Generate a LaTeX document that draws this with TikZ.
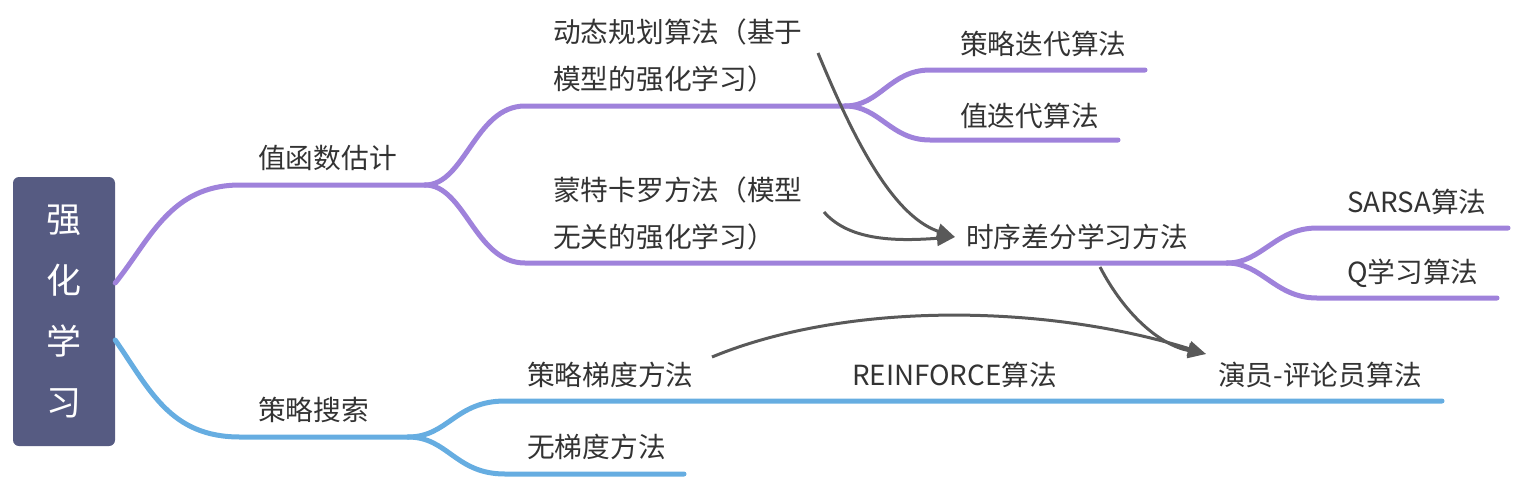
\documentclass[tikz,border=0pt]{standalone}
\usepackage{fontspec}
\setmainfont{Noto Sans CJK SC}
\usetikzlibrary{arrows.meta}
\definecolor{purp}{HTML}{9F82DB}
\definecolor{blu}{HTML}{66ADE1}
\definecolor{rootc}{HTML}{565B82}
\definecolor{arr}{HTML}{595959}
\definecolor{txt}{HTML}{333333}
\begin{document}
\begin{tikzpicture}[x=1pt,y=-1pt,
  lbl/.style={anchor=west,inner sep=0pt,text=txt,font=\fontsize{27.7}{47}\selectfont,align=left},
  pline/.style={draw=purp,line width=5pt,line cap=round},
  bline/.style={draw=blu,line width=5pt,line cap=round},
  conn/.style={draw=arr,line width=3pt,-{Triangle[length=18pt,width=15pt]}}]
\useasboundingbox (0,0) rectangle (1520,480);
% root
\node[fill=rootc,rounded corners=6pt,minimum width=102pt,minimum height=269pt,inner sep=0pt,
  text=white,font=\fontsize{35}{61}\selectfont,align=center] (root) at (64,311.5) {强\\化\\学\\习};
% labels
\node[lbl] (vf) at (258,158) {值函数估计};
\node[lbl] (ps) at (258,410) {策略搜索};
\node[lbl] (dp) at (553,55) {动态规划算法（基于\\模型的强化学习）};
\node[lbl] (mc) at (553,213) {蒙特卡罗方法（模型\\无关的强化学习）};
\node[lbl] (pi) at (960,44) {策略迭代算法};
\node[lbl] (vi) at (960,116) {值迭代算法};
\node[lbl] (td) at (966,237) {时序差分学习方法};
\node[lbl] (sa) at (1347,202) {SARSA算法};
\node[lbl] (ql) at (1347,273) {Q学习算法};
\node[lbl] (pg) at (527,375) {策略梯度方法};
\node[lbl] (rf) at (852,375) {REINFORCE算法};
\node[lbl] (ac) at (1218,375) {演员-评论员算法};
\node[lbl] (gf) at (527,447) {无梯度方法};
% anchor coordinates
\coordinate (r1) at ([yshift=28.5pt]root.east);
\coordinate (r2) at ([yshift=-28.5pt]root.east);
\coordinate (f1) at (425,185);
\coordinate (f2) at (845,106);
\coordinate (f3) at (1227,263);
\coordinate (e1) at (1145,70);
\coordinate (e2) at (1118,140);
\coordinate (e3) at (1508,228);
\coordinate (e4) at (1497,298);
\coordinate (g1) at (408,437);
\coordinate (e5) at (1442,401);
\coordinate (e6) at (684,474);
% purple branches
\draw[pline] (r1) .. controls (150,240) and (170,185) .. (240,185) -- (f1);
\draw[pline] (f1) .. controls (465,185) and (475,106) .. (525,106) -- (f2);
\draw[pline] (f1) .. controls (465,185) and (475,263) .. (525,263) -- (f3);
\draw[pline] (f2) .. controls (880,106) and (890,70) .. (930,70) -- (e1);
\draw[pline] (f2) .. controls (880,106) and (890,140) .. (930,140) -- (e2);
\draw[pline] (f3) .. controls (1262,263) and (1275,228) .. (1317,228) -- (e3);
\draw[pline] (f3) .. controls (1262,263) and (1275,298) .. (1317,298) -- (e4);
% blue branches
\draw[bline] (r2) .. controls (150,390) and (170,437) .. (240,437) -- (g1);
\draw[bline] (g1) .. controls (448,437) and (455,401) .. (505,401) -- (e5);
\draw[bline] (g1) .. controls (448,437) and (455,474) .. (505,474) -- (e6);
% relation arrows
\coordinate (a1s) at (818,53);
\coordinate (a2s) at (824,212);
\coordinate (a3s) at (1100,267);
\coordinate (a4s) at (712,357);
\coordinate (tdin) at ([xshift=-11pt]td.west);
\coordinate (acin) at ([xshift=-12pt,yshift=21pt]ac.west);
\draw[conn] (a1s) .. controls (850,130) and (890,215) .. (tdin);
\draw[conn] (a2s) .. controls (850,242) and (900,241) .. (tdin);
\draw[conn] (a3s) .. controls (1125,315) and (1160,345) .. (acin);
\draw[conn] (a4s) .. controls (850,300) and (1050,305) .. (acin);
\end{tikzpicture}
\end{document}
